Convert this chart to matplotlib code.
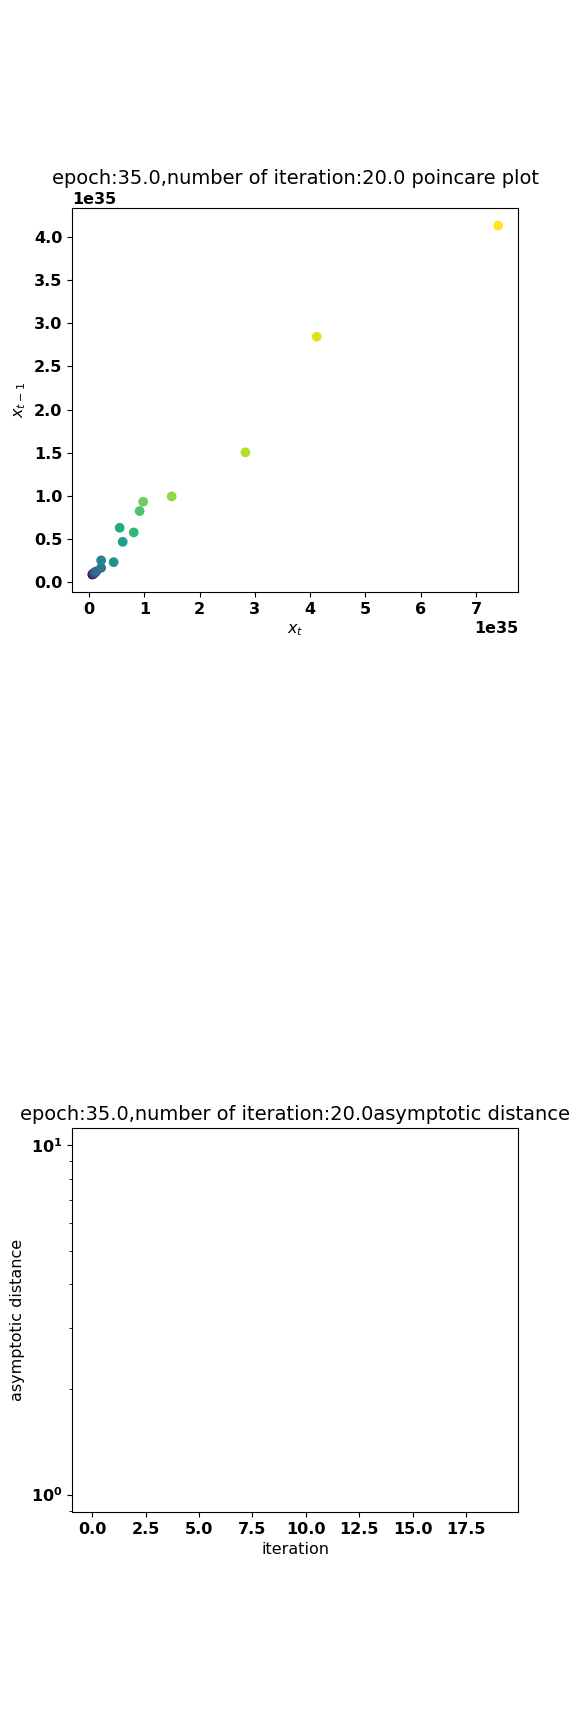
import numpy as np
import matplotlib
matplotlib.use('Agg')
import matplotlib.pyplot as plt

# poincare points (units of 1e35): x_t and x_{t-1}, colour = iteration index
x_t = [0.06, 0.07, 0.08, 0.09, 0.10, 0.12, 0.13, 0.22, 0.22, 0.446,
       0.61, 0.555, 0.81, 0.916, 0.98, 1.495, 2.83, 4.12, 7.40]
x_tm1 = [0.085, 0.09, 0.10, 0.095, 0.11, 0.115, 0.12, 0.163, 0.25, 0.229,
         0.465, 0.628, 0.574, 0.822, 0.93, 0.992, 1.504, 2.845, 4.136]
scale = 1e35

# asymptotic distance per iteration (nothing was recorded)
iterations = list(range(20))
asym_dist = [np.nan] * 20

epoch = 35.0
n_iter = 20.0

plt.rcParams['font.size'] = 11.5


def bold_ticks(ax):
    for t in ax.xaxis.get_major_ticks() + ax.yaxis.get_major_ticks():
        t.label1.set_fontweight('bold')
    for t in ax.yaxis.get_minor_ticks():
        t.label1.set_fontweight('bold')
    ax.xaxis.get_offset_text().set_fontweight('bold')
    ax.yaxis.get_offset_text().set_fontweight('bold')


fig = plt.figure(figsize=(5.76, 17.28), dpi=100)

ax1 = fig.add_axes([0.125, 0.6574, 0.775, 0.2222])
xs = np.array(x_t) * scale
ys = np.array(x_tm1) * scale
ax1.scatter(xs, ys, c=np.arange(len(xs)), cmap='viridis')
ax1.set_title('epoch:%s,number of iteration:%s poincare plot' % (epoch, n_iter),
              fontsize=13.95)
ax1.set_xlabel('$x_t$')
ax1.set_ylabel('$x_{t-1}$')

ax2 = fig.add_axes([0.125, 0.125, 0.775, 0.2222])
ax2.plot(iterations, asym_dist)
ax2.set_yscale('log')
ax2.set_xlim(-0.95, 19.95)
ax2.set_ylim(10 ** -0.05, 10 ** 1.05)
ax2.set_title('epoch:%s,number of iteration:%sasymptotic distance' % (epoch, n_iter),
              fontsize=13.95)
ax2.set_xlabel('iteration')
ax2.set_ylabel('asymptotic distance')

fig.canvas.draw()
bold_ticks(ax1)
bold_ticks(ax2)

fig.savefig('out.png', dpi=100)
